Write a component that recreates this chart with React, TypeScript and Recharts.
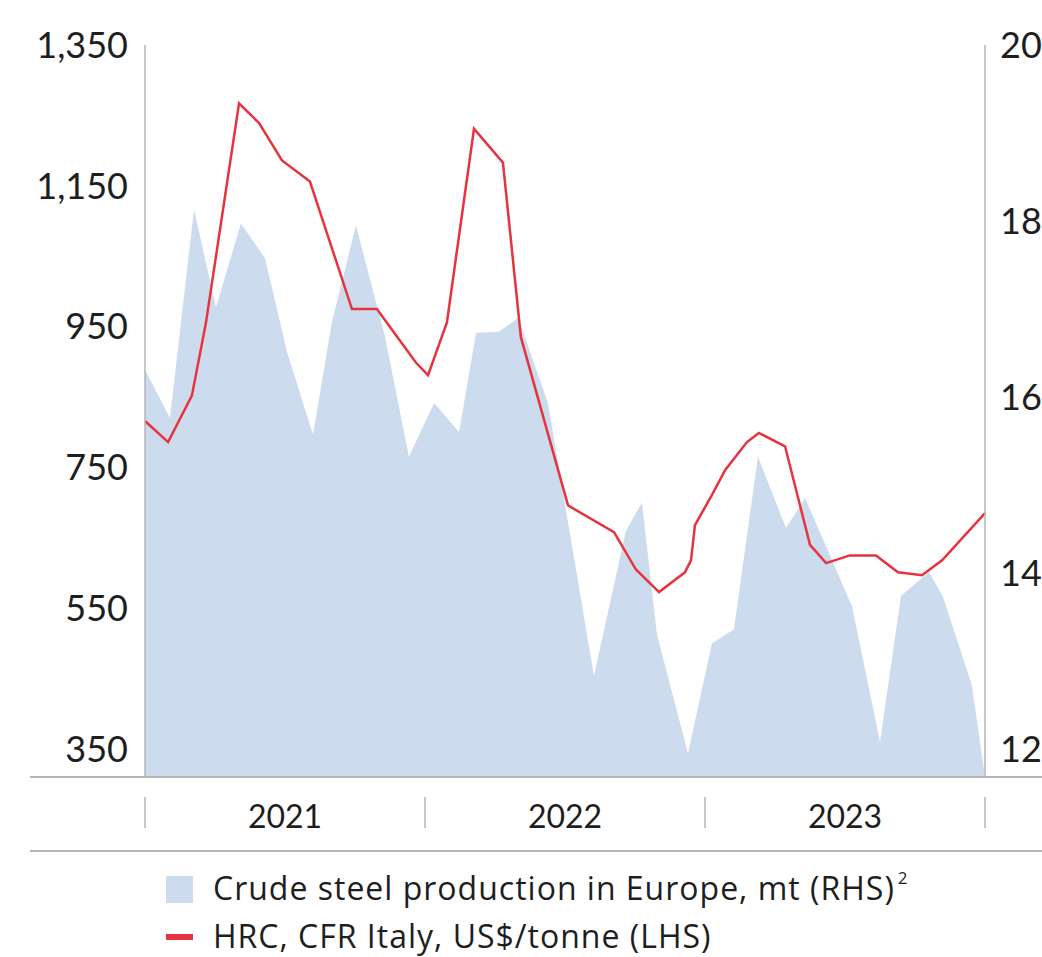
import React from 'react';
import { ComposedChart, Area, Line, XAxis, YAxis } from 'recharts';

// Month position (0 = Jan 2021 start, 36 = end 2023) and values
const steelMonth = [0, 1.07, 2.1, 3.04, 4.11, 5.14, 6.09, 7.2, 8.01, 9.04, 10.29, 11.31, 12.39, 13.46, 14.19, 15.17, 15.99, 17.27, 19.24, 20.61, 21.3, 21.94, 23.27, 24.3, 25.24, 26.27, 27.47, 28.29, 30.3, 31.5, 32.4, 33.6, 34.2, 35.44, 36];
const steelValue = [16.31, 15.76, 18.13, 17.02, 17.97, 17.58, 16.51, 15.57, 16.85, 17.95, 16.68, 15.32, 15.93, 15.6, 16.73, 16.74, 16.9, 15.93, 12.83, 14.48, 14.8, 13.3, 11.95, 13.2, 13.36, 15.32, 14.51, 14.85, 13.62, 12.08, 13.74, 14.01, 13.73, 12.72, 11.68];

const hrcMonth = [0, 0.99, 2.01, 2.61, 4.03, 4.89, 5.87, 7.07, 8.87, 9.94, 10.71, 11.61, 12.13, 12.94, 14.1, 15.34, 16.11, 18.13, 20.1, 21.04, 22.03, 23.14, 23.4, 23.57, 24.3, 24.86, 25.8, 26.31, 27.43, 28.5, 29.19, 30.21, 31.33, 32.27, 33.3, 34.16, 36];
const hrcValue = [816, 786, 852, 955, 1267, 1239, 1186, 1156, 975, 975, 940, 899, 881, 956, 1231, 1183, 935, 696, 658, 605, 573, 601, 618, 668, 711, 746, 786, 799, 780, 640, 614, 625, 625, 601, 597, 618, 685];

const yearLabels = ['2021', '2022', '2023'];
const yearCenters = [6, 18, 30];
const yearDividers = [0, 12, 24, 36];
const leftTicks = [350, 550, 750, 950, 1150, 1350];
const rightTicks = [12, 14, 16, 18, 20];

const legendSteel = 'Crude steel production in Europe, mt (RHS)';
const legendHrc = 'HRC, CFR Italy, US$/tonne (LHS)';

type Row = { m: number; steel?: number; hrc?: number };
const rowMap = new Map<number, Row>();
steelMonth.forEach((m, i) => {
  const r = rowMap.get(m) || { m };
  r.steel = steelValue[i];
  rowMap.set(m, r);
});
hrcMonth.forEach((m, i) => {
  const r = rowMap.get(m) || { m };
  r.hrc = hrcValue[i];
  rowMap.set(m, r);
});
const data: Row[] = Array.from(rowMap.values()).sort((a, b) => a.m - b.m);

const FONT = 'Lato, "Open Sans", sans-serif';
const LEGEND_FONT = '"Open Sans", Lato, sans-serif';
const TEXT = '#1e1e1e';
const GRAY = '#b5b5b5';
const RED = '#e5343d';
const BLUE = '#ccdcee';

const YearTick = (props: any) => {
  const { x, y, payload } = props;
  const v = payload.value;
  const idx = yearCenters.indexOf(v);
  if (idx >= 0) {
    return (
      <text x={x} y={y + 38} textAnchor="middle" dominantBaseline="central" fill={TEXT} fontSize={32} fontFamily={FONT}>
        {yearLabels[idx]}
      </text>
    );
  }
  return <line x1={x} x2={x} y1={y + 20} y2={y + 51} stroke={GRAY} strokeWidth={1.5} />;
};

const fmt = (v: number) => v.toLocaleString('en-US');

export default function App() {
  return (
    <div style={{ position: 'absolute', left: 0, top: 0, width: 1042, height: 957, background: '#fff', overflow: 'hidden' }}>
      <ComposedChart
        width={1042}
        height={957}
        data={data}
        margin={{ top: 45, right: 0, bottom: 120, left: 0 }}
      >
        <XAxis
          dataKey="m"
          type="number"
          domain={[0, 36]}
          ticks={[...yearDividers, ...yearCenters].sort((a, b) => a - b)}
          interval={0}
          axisLine={false}
          tickLine={false}
          tickSize={0}
          tickMargin={0}
          height={60}
          tick={<YearTick />}
        />
        <YAxis
          yAxisId="left"
          orientation="left"
          width={145}
          domain={[310.3, 1350]}
          ticks={leftTicks}
          interval={0}
          tickFormatter={fmt}
          axisLine={{ stroke: GRAY, strokeWidth: 1.5 }}
          tickLine={false}
          tickSize={0}
          tickMargin={17}
          tick={{ fill: TEXT, fontSize: 36, fontFamily: FONT }}
        />
        <YAxis
          yAxisId="right"
          orientation="right"
          width={57}
          domain={[11.68, 20]}
          ticks={rightTicks}
          interval={0}
          axisLine={{ stroke: GRAY, strokeWidth: 1.5 }}
          tickLine={false}
          tickSize={0}
          tickMargin={15}
          tick={{ fill: TEXT, fontSize: 36, fontFamily: FONT, textAnchor: 'start' }}
        />
        <Area
          yAxisId="right"
          type="linear"
          dataKey="steel"
          stroke="none"
          fill={BLUE}
          fillOpacity={1}
          connectNulls
          isAnimationActive={false}
          dot={false}
          activeDot={false}
        />
        <Line
          yAxisId="left"
          type="linear"
          dataKey="hrc"
          stroke={RED}
          strokeWidth={2.5}
          connectNulls
          dot={false}
          activeDot={false}
          isAnimationActive={false}
        />
      </ComposedChart>
      <div style={{ position: 'absolute', left: 30, top: 776, width: 1012, height: 2, background: GRAY }} />
      <div style={{ position: 'absolute', left: 30, top: 850, width: 1012, height: 1.5, background: GRAY }} />
      <div style={{ position: 'absolute', left: 166, top: 876, width: 27, height: 27, background: BLUE }} />
      <div style={{ position: 'absolute', left: 213, top: 867, fontFamily: LEGEND_FONT, fontSize: 32, letterSpacing: 1, color: TEXT, lineHeight: '42px', whiteSpace: 'nowrap' }}>
        {legendSteel}
        <span style={{ fontSize: 17, position: 'relative', top: -16, marginLeft: 3 }}>2</span>
      </div>
      <div style={{ position: 'absolute', left: 166, top: 934, width: 27, height: 6, background: RED }} />
      <div style={{ position: 'absolute', left: 213, top: 915, fontFamily: LEGEND_FONT, fontSize: 32, letterSpacing: 1, color: TEXT, lineHeight: '42px', whiteSpace: 'nowrap' }}>
        {legendHrc}
      </div>
    </div>
  );
}
